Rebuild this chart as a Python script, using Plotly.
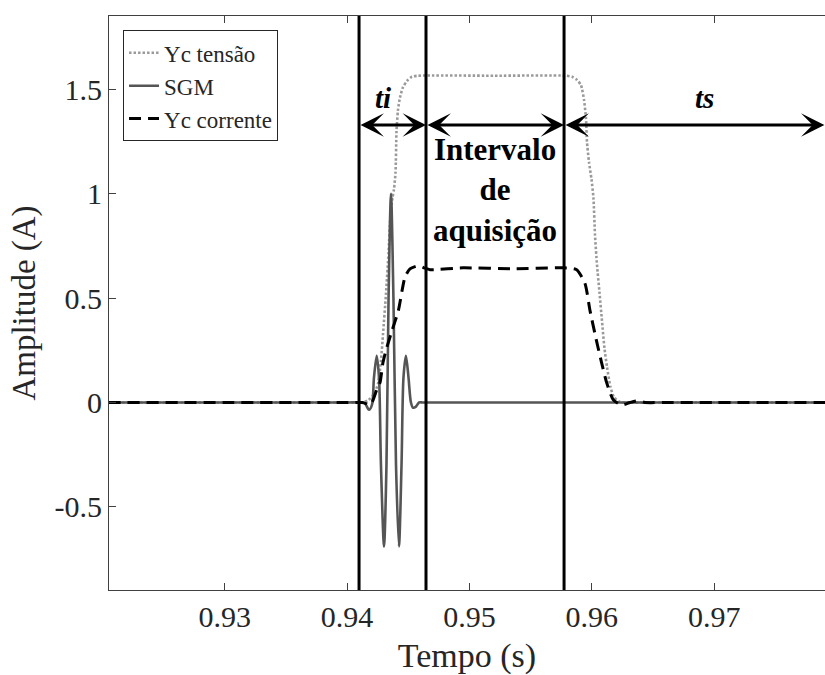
import plotly.graph_objects as go

# ---------------- data ----------------
t_sgm = [0.9205, 0.9300, 0.9400, 0.94122, 0.94147, 0.94179, 0.94204, 0.94220, 0.94242, 0.94261,
         0.94277, 0.94302, 0.94322, 0.94339, 0.94359, 0.94379, 0.94400, 0.94424, 0.94445,
         0.94461, 0.94481, 0.94502, 0.94522, 0.94539, 0.94563, 0.94588, 0.94620, 0.9500,
         0.9700, 0.9800]
y_sgm = [0.0, 0.0, 0.0, 0.0, -0.005, -0.035, -0.01, 0.12, 0.224, 0.12,
         -0.30, -0.69, -0.30, 0.50, 1.00, 0.50, -0.30, -0.69, -0.30,
         0.12, 0.224, 0.12, 0.0, -0.025, -0.02, 0.0, 0.0, 0.0,
         0.0, 0.0]

t_tensao = [0.9205, 0.9300, 0.9400, 0.94122, 0.94171, 0.94220, 0.94253, 0.94277, 0.94294,
            0.94318, 0.94339, 0.94355, 0.94371, 0.94383, 0.94396, 0.94404, 0.94416, 0.94432,
            0.94457, 0.94490, 0.94530, 0.94580, 0.9520, 0.95789, 0.95838, 0.95879, 0.95911,
            0.95936, 0.95952, 0.95960, 0.95977, 0.95997, 0.96013, 0.96026, 0.96042, 0.96062,
            0.96083, 0.96103, 0.96124, 0.96152, 0.96181, 0.96222, 0.96271, 0.9650, 0.9700,
            0.9800]
y_tensao = [0.0, 0.0, 0.0, 0.0, 0.01, 0.04, 0.09, 0.20, 0.33,
            0.52, 0.72, 0.90, 0.98, 1.02, 1.10, 1.30, 1.40, 1.46,
            1.51, 1.54, 1.56, 1.565, 1.565, 1.565, 1.56, 1.545, 1.52,
            1.45, 1.36, 1.25, 1.15, 1.07, 0.98, 0.80, 0.66, 0.53,
            0.39, 0.26, 0.17, 0.075, 0.025, 0.005, 0.0, 0.0, 0.0,
            0.0]

t_corrente = [0.9205, 0.9300, 0.9400, 0.94122, 0.94155, 0.94179, 0.94204, 0.94242, 0.94269,
              0.94293, 0.94318, 0.94365, 0.94419, 0.94473, 0.94514, 0.94582, 0.94629, 0.94678,
              0.94947, 0.95356, 0.95764, 0.95876, 0.95944, 0.95985, 0.96040, 0.96080, 0.96121,
              0.96175, 0.96244, 0.96312, 0.96377, 0.96434, 0.9660, 0.9700, 0.9800]
y_corrente = [0.0, 0.0, 0.0, 0.0, -0.005, -0.012, 0.0, 0.06, 0.095,
              0.19, 0.25, 0.34, 0.44, 0.60, 0.64, 0.655, 0.645, 0.636,
              0.645, 0.64, 0.645, 0.636, 0.57, 0.44, 0.29, 0.19, 0.095,
              0.013, -0.012, 0.0, 0.008, 0.0, 0.0, 0.0, 0.0]

marker_times = [0.94098, 0.94645, 0.95773]   # vertical separators
arrow_level = 1.329
arrow_right_end = 0.9790
x_ticks = [0.93, 0.94, 0.95, 0.96, 0.97]
x_ticklabels = ["0.93", "0.94", "0.95", "0.96", "0.97"]
y_ticks = [-0.5, 0, 0.5, 1, 1.5]
y_ticklabels = ["-0.5", "0", "0.5", "1", "1.5"]
x_range = [0.92055, 0.97905]
y_range = [-0.898, 1.851]

FONT = "Liberation Serif"

fig = go.Figure()
fig.add_trace(go.Scatter(x=t_tensao, y=y_tensao, mode="lines", name="Yc tensão",
                         legendgroup="a", line=dict(color="#9a9a9a", width=2.6, dash="2.5px,2px",
                                                    shape="spline", smoothing=0.6)))
fig.add_trace(go.Scatter(x=t_sgm, y=y_sgm, mode="lines", name="SGM", legendgroup="b",
                         line=dict(color="#555555", width=2.6, shape="spline", smoothing=0.8)))
fig.add_trace(go.Scatter(x=t_corrente, y=y_corrente, mode="lines", name="Yc corrente",
                         legendgroup="c", line=dict(color="black", width=3, dash="12px,7px",
                                                    shape="spline", smoothing=0.6)))

for xm in marker_times:
    fig.add_shape(type="line", x0=xm, x1=xm, y0=0, y1=1, xref="x", yref="paper",
                  line=dict(color="black", width=3))

# double arrows
bounds = [marker_times[0], marker_times[1], marker_times[2], arrow_right_end]
for a, b in zip(bounds[:-1], bounds[1:]):
    fig.add_annotation(x=b, y=arrow_level, ax=a, ay=arrow_level, xref="x", yref="y",
                       axref="x", ayref="y", text="", showarrow=True, arrowhead=3,
                       arrowside="end+start", arrowsize=1.3, arrowwidth=3,
                       arrowcolor="black", standoff=0, startstandoff=0)

fig.add_annotation(x=0.94294, y=1.458, text="<b><i>ti</i></b>", showarrow=False,
                   font=dict(family=FONT, size=29, color="black"))
fig.add_annotation(x=0.96924, y=1.458, text="<b><i>ts</i></b>", showarrow=False,
                   font=dict(family=FONT, size=29, color="black"))
fig.add_annotation(x=0.95209, y=1.017, text="<b>Intervalo<br>de<br>aquisição</b>",
                   showarrow=False, font=dict(family=FONT, size=31, color="black"))

fig.update_layout(
    width=825, height=675,
    margin=dict(l=109, r=0, t=16, b=85),
    paper_bgcolor="white", plot_bgcolor="white",
    font=dict(family=FONT, size=30, color="#262626"),
    showlegend=True,
    legend=dict(x=0.0196, y=0.975, xanchor="left", yanchor="top",
                bordercolor="#262626", borderwidth=1, bgcolor="white",
                font=dict(family=FONT, size=23, color="#262626"),
                tracegroupgap=0, traceorder="grouped"),
    xaxis=dict(range=x_range, tickvals=x_ticks, ticktext=x_ticklabels,
               showgrid=False, zeroline=False, showline=True, linecolor="#404040",
               linewidth=1, mirror="ticks", ticks="inside", ticklen=7, tickcolor="#404040",
               title=dict(text="Tempo (s)", font=dict(size=34), standoff=12)),
    yaxis=dict(range=y_range, tickvals=y_ticks, ticktext=y_ticklabels,
               showgrid=False, zeroline=False, showline=True, linecolor="#404040",
               linewidth=1, ticks="inside", ticklen=7, tickcolor="#404040",
               title=dict(text="Amplitude (A)", font=dict(size=33), standoff=8)),
)

fig.write_html("out.html")
